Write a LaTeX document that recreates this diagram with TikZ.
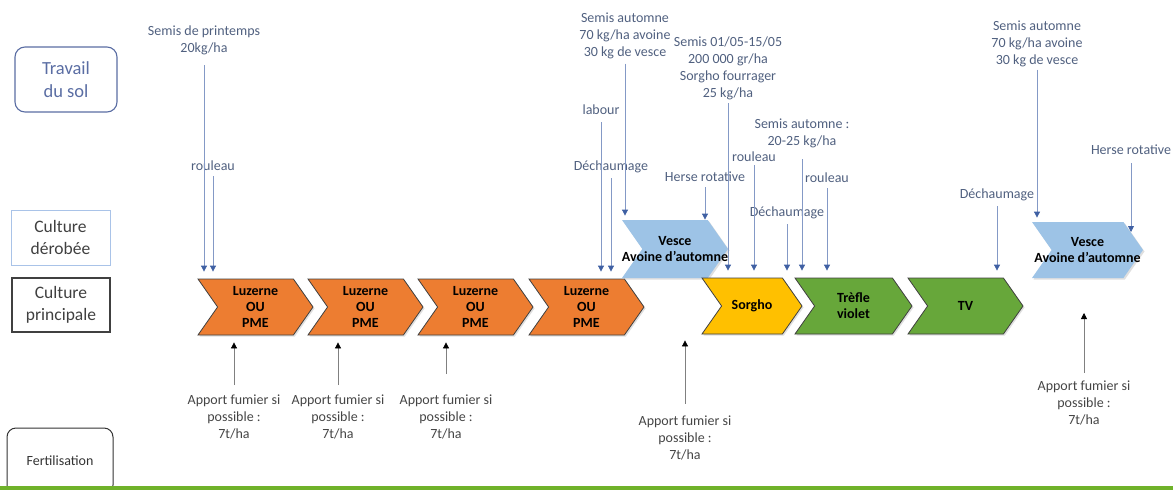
\documentclass[tikz,border=0pt]{standalone}
\usepackage{fontspec}
\setmainfont{Carlito}
\usepackage{xcolor}
\usetikzlibrary{arrows.meta,positioning,shapes.symbols,shadows,calc}
\definecolor{soltext}{HTML}{50607F}
\definecolor{solline}{HTML}{8499C6}
\definecolor{solhead}{HTML}{3F60A3}
\definecolor{travailbleu}{HTML}{5A6DA3}
\definecolor{derobbleu}{HTML}{A9C3E8}
\definecolor{luzorange}{HTML}{ED7D31}
\definecolor{sorghojaune}{HTML}{FFC000}
\definecolor{trefvert}{HTML}{67A73A}
\definecolor{vescebleu}{HTML}{9DC3E6}
\definecolor{fumtext}{HTML}{454545}
\definecolor{bandevert}{HTML}{6FB22A}

\begin{document}
\begin{tikzpicture}[
    x=1pt, y=-1pt,
    every node/.style={align=center, inner sep=2pt, font=\fontsize{14}{17}\selectfont},
    soltxt/.style={text=soltext},
    fumtxt/.style={text=fumtext},
    chevron/.style={shape=signal, signal from=west, signal to=east,
      signal pointer angle=110, draw=black!75, line width=0.8pt,
      minimum height=56pt, inner sep=0pt,
      drop shadow={opacity=0.25, shadow xshift=1.5pt, shadow yshift=-1.5pt},
      font=\bfseries\fontsize{14}{16}\selectfont},
    luz/.style={chevron, fill=luzorange, minimum width=115pt},
    sorgho/.style={chevron, fill=sorghojaune, minimum width=100pt},
    trefle/.style={chevron, fill=trefvert, minimum width=117pt},
    vesce/.style={chevron, draw=none, fill=vescebleu},
    solarrow/.style={draw=solline, line width=0.8pt, shorten <=3pt, shorten >=7pt,
      -{Triangle[width=6pt,length=6pt,color=solhead]}},
    fumarrow/.style={draw=black!50, line width=0.8pt, shorten >=7pt,
      -{Triangle[width=6pt,length=6pt,color=black]}}
  ]
  \useasboundingbox (0,0) rectangle (1173,490);
  % row titles
  \node[draw=travailbleu, text=travailbleu, rounded corners=10pt, line width=1.1pt,
    minimum width=102pt, minimum height=65pt, font=\fontsize{18.5}{23}\selectfont]
    (travail) at (66,79.5) {Travail\\du sol};
  \node[draw=derobbleu, line width=1pt, text=black!75, minimum width=99pt,
    minimum height=55pt, font=\fontsize{17.5}{22}\selectfont]
    (derobee) at (60.5,237.5) {Culture\\dérobée};
  \node[draw=black!75, line width=1.4pt, text=black!75, minimum width=98pt,
    minimum height=54pt, font=\fontsize{17.5}{22}\selectfont]
    (principale) at (61,305) {Culture\\principale};
  \node[draw=black!80, rounded corners=9pt, line width=1pt, minimum width=106pt,
    minimum height=66pt, text=black!80] (fertil) at (60,461) {Fertilisation};
  \fill[bandevert] (0,486) rectangle (1173,490);
  % cultures
  \node[luz] (l1) at (255.5,307) {Luzerne\\OU\\PME};
  \node[luz] (l2) at (365.5,307) {Luzerne\\OU\\PME};
  \node[luz] (l3) at (475.5,307) {Luzerne\\OU\\PME};
  \node[luz] (l4) at (586.5,307) {Luzerne\\OU\\PME};
  \node[vesce, minimum width=106pt, minimum height=58pt] (v1) at (675,249)
    {Vesce\\\makebox[0pt]{Avoine d’automne}};
  \node[sorgho] (sorgho) at (752,306) {Sorgho};
  \node[trefle] (trefle) at (853.5,306) {Trèfle\\violet};
  \node[trefle, minimum width=115pt] (tv) at (965.5,306) {TV};
  \node[vesce, minimum width=111pt] (v2) at (1087.5,250)
    {Vesce\\\makebox[0pt]{Avoine d’automne}};
  % travail du sol
  \node[soltxt] (sp1) at (204,40.5) {Semis de printemps\\20kg/ha};
  \node[soltxt] (rl1) at (213,166) {rouleau};
  \node[soltxt] (sa1) at (625,35.5) {Semis automne\\70 kg/ha avoine\\30 kg de vesce};
  \node[soltxt] (lab) at (601,110) {labour};
  \node[soltxt] (dch1) at (611,167) {Déchaumage};
  \node[soltxt] (ssor) at (728,68.5) {Semis 01/05-15/05\\200 000 gr/ha\\Sorgho fourrager\\25 kg/ha};
  \node[soltxt] (hr1) at (705,177) {Herse rotative};
  \node[soltxt] (rl2) at (754,157) {rouleau};
  \node[soltxt] (sa2) at (802,133.5) {Semis automne :\\20-25 kg/ha};
  \node[soltxt] (dch2) at (787,213) {Déchaumage};
  \node[soltxt] (rl3) at (827,178) {rouleau};
  \node[soltxt] (sa3) at (1037,43.5) {Semis automne\\70 kg/ha avoine\\30 kg de vesce};
  \node[soltxt] (hr2) at (1131,150) {Herse rotative};
  \node[soltxt] (dch3) at (997,195) {Déchaumage};
  \draw[solarrow, shorten <=8pt] (sp1) -- (sp1 |- l1.north);
  \draw[solarrow] (rl1) -- (rl1 |- l1.north);
  \draw[solarrow, shorten >=4pt] (sa1) -- (sa1 |- v1.north);
  \draw[solarrow, shorten <=5pt] (lab) -- (lab |- l4.north);
  \draw[solarrow] (dch1) -- (dch1 |- l4.north);
  \draw[solarrow, shorten <=1pt] (ssor) -- (ssor |- sorgho.north);
  \draw[solarrow, shorten >=0pt] (hr1) -- (hr1 |- v1.north);
  \draw[solarrow, shorten <=1pt] (rl2) -- (rl2 |- sorgho.north);
  \draw[solarrow, shorten <=9pt] (sa2) -- (sa2 |- trefle.north);
  \draw[solarrow] (dch2) -- (dch2 |- sorgho.north);
  \draw[solarrow] (rl3) -- (rl3 |- trefle.north);
  \draw[solarrow, shorten <=1pt, shorten >=4pt] (sa3) -- (sa3 |- v2.north);
  \draw[solarrow, shorten <=6pt, shorten >=18pt] (hr2) -- (hr2 |- v2.east);
  \draw[solarrow] (dch3) -- (dch3 |- tv.north);
  % fertilisation
  \node[fumtxt] (f1) at (234,416.5) {Apport fumier si\\possible :\\7t/ha};
  \node[fumtxt] (f2) at (338,416.5) {Apport fumier si\\possible :\\7t/ha};
  \node[fumtxt] (f3) at (446,416.5) {Apport fumier si\\possible :\\7t/ha};
  \node[fumtxt] (f4) at (685,438) {Apport fumier si\\possible :\\7t/ha};
  \node[fumtxt] (f5) at (1084,403) {Apport fumier si\\possible :\\7t/ha};
  \coordinate (f5tip) at (1084,313);
  \draw[fumarrow, shorten <=7pt] (f1) -- (f1 |- l1.south);
  \draw[fumarrow, shorten <=7pt] (f2) -- (f2 |- l2.south);
  \draw[fumarrow, shorten <=18pt] (f3) -- (f3 |- l3.south);
  \draw[fumarrow, shorten <=10pt, shorten >=5pt] (f4) -- (f4 |- l4.south);
  \draw[fumarrow, shorten <=6pt, shorten >=0pt] (f5) -- (f5tip);
\end{tikzpicture}
\end{document}
